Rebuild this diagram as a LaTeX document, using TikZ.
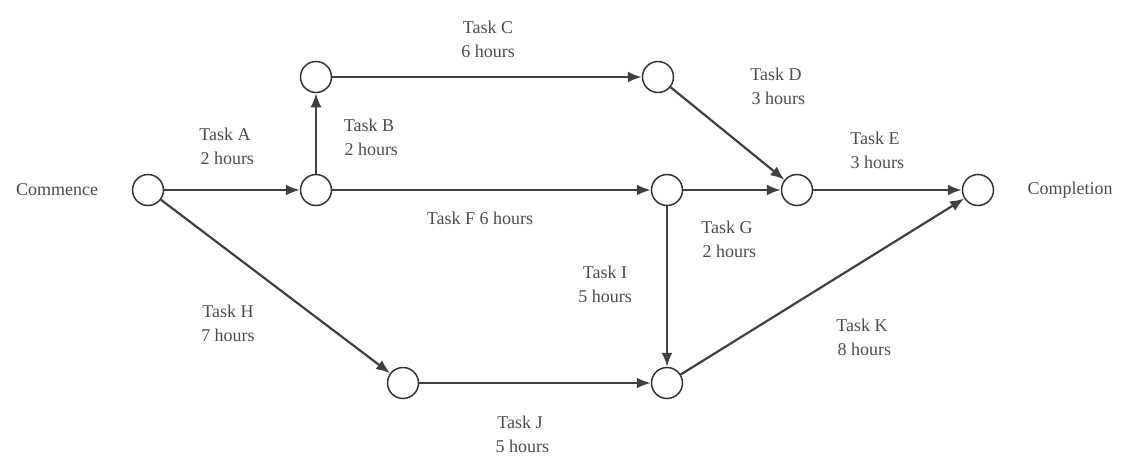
\documentclass[tikz,border=0pt]{standalone}
\usepackage{fontspec}
\setmainfont{Liberation Serif}
\usetikzlibrary{arrows.meta}
\begin{document}
\begin{tikzpicture}[x=1pt,y=-1pt,
  ev/.style={circle,draw=black!80,line width=1.5pt,minimum size=31pt,inner sep=0pt},
  act/.style={draw=black!75,line width=2.2pt,-{Latex[length=14pt,width=11pt]}},
  lbl/.style={font=\fontsize{18}{24}\selectfont,text=black!70,align=center,inner sep=0pt}]
\useasboundingbox (0,0) rectangle (1129,458);
\node[ev] (c) at (148,190) {};
\node[ev] (n1) at (316,190) {};
\node[ev] (n2) at (316,77) {};
\node[ev] (n3) at (658,77) {};
\node[ev] (n4) at (667,190) {};
\node[ev] (n5) at (797,190) {};
\node[ev] (n6) at (978,190) {};
\node[ev] (n7) at (403,383) {};
\node[ev] (n8) at (667,383) {};
\draw[act] (c) -- (n1);
\draw[act] (n1) -- (n2);
\draw[act] (n2) -- (n3);
\draw[act] (n3) -- (n5);
\draw[act] (n1) -- (n4);
\draw[act] (n4) -- (n5);
\draw[act] (n5) -- (n6);
\draw[act] (c) -- (n7);
\draw[act] (n7) -- (n8);
\draw[act] (n4) -- (n8);
\draw[act] (n8) -- (n6);
\node[lbl] (tc) at (488,39) {Task C\\6 hours};
\node[lbl] (td) at (776,86) {Task D\\\ 3 hours};
\node[lbl] (ta) at (225,146) {Task A\\\ 2 hours};
\node[lbl] (tb) at (369,137) {Task B\\\ 2 hours};
\node[lbl] (te) at (875,150) {Task E\\\ 3 hours};
\node[lbl] (tf) at (480,218) {Task F 6 hours};
\node[lbl] (tg) at (727,239) {Task G\\\ 2 hours};
\node[lbl] (ti) at (605,284) {Task I\\5 hours};
\node[lbl] (th) at (228,323) {Task H\\7 hours};
\node[lbl] (tk) at (862,337) {Task K\\\ 8 hours};
\node[lbl] (tj) at (520,434) {Task J\\\ 5 hours};
\node[lbl] (cm) at (57,190) {Commence};
\node[lbl] (cp) at (1070,190) {Completion};
\end{tikzpicture}
\end{document}
